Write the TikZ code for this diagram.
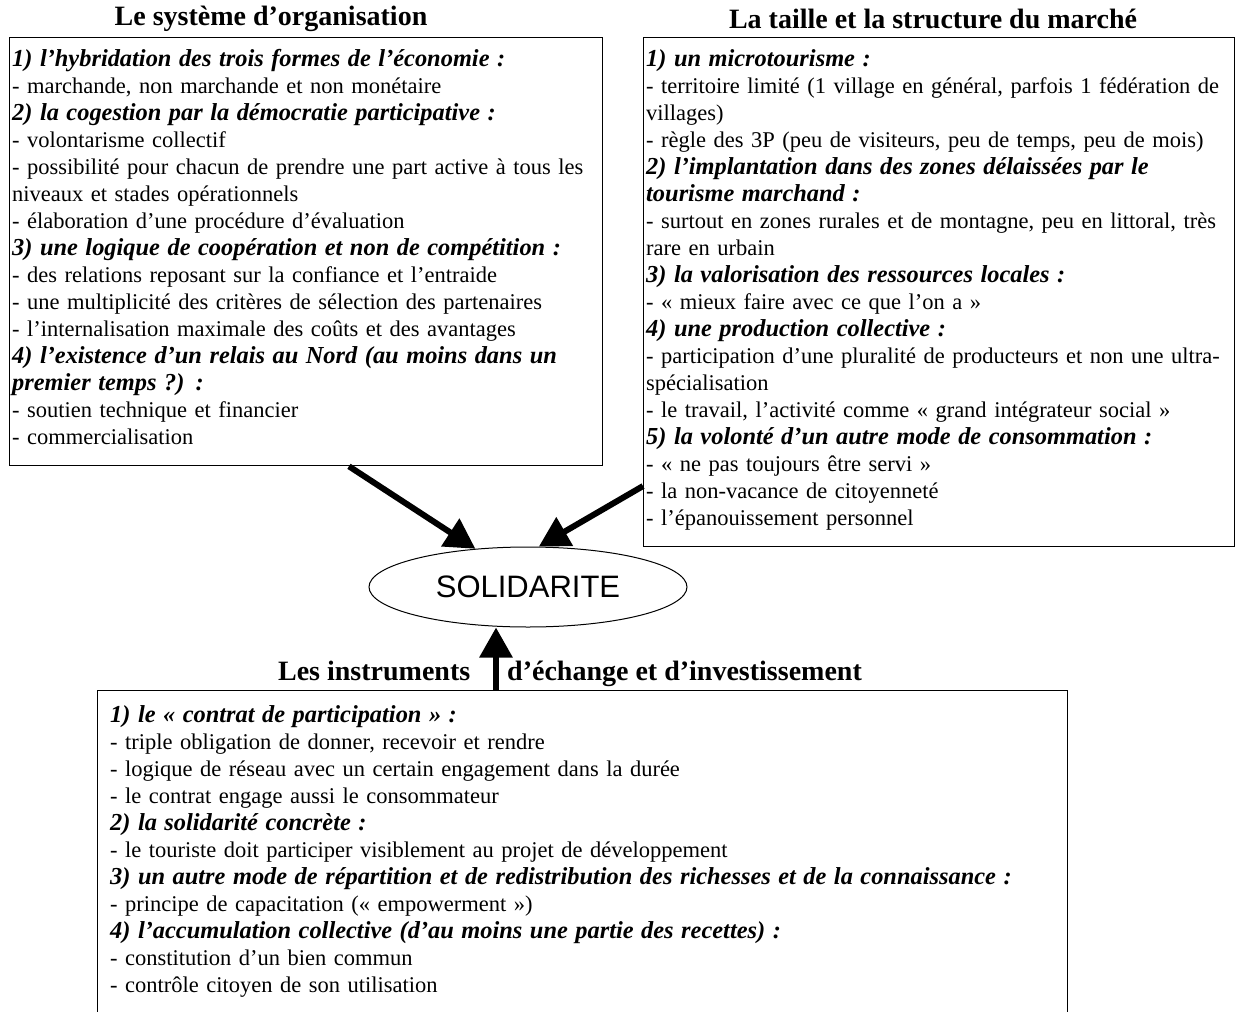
\documentclass[tikz,border=0pt]{standalone}
\usepackage{fontspec}
\setmainfont{Liberation Serif}
\newfontfamily\arialfont{Liberation Sans}
\usetikzlibrary{shapes.geometric,arrows.meta,calc}

\newcommand{\rub}[1]{{\fontsize{24.4}{27}\selectfont\bfseries\itshape #1}}
\newcommand{\pleine}[1]{\makebox[\hsize][s]{#1}}

\begin{document}
\begin{tikzpicture}[x=1pt,y=-1pt]
\tikzstyle{cadre}=[draw, line width=1.3pt, rectangle, inner sep=0pt, anchor=north west]
\tikzstyle{texte}=[anchor=north west, align=left, inner xsep=3pt, inner ysep=12pt,
	font=\fontsize{22.5}{27}\selectfont]
\tikzstyle{titre}=[font=\fontsize{28}{30}\selectfont\bfseries]
\tikzstyle{fleche}=[line width=6pt, -{Triangle[length=30pt,width=32pt]}]
\useasboundingbox (0,0) rectangle (1235,1012);

% les trois cadres
\node[cadre, minimum width=593pt, minimum height=428pt] (orga) at (9,37) {};
\node[cadre, minimum width=591pt, minimum height=509pt] (marche) at (643,37) {};
\node[cadre, minimum width=970pt, minimum height=340pt] (instr) at (97,690) {};

% titres
\node[titre] (t-orga) at (271,19) {Le système d’organisation};
\node[titre] (t-marche) at (933,19) {La taille et la structure du marché};
\node[titre] (t-instr) at (570,674) {Les instruments\hspace{37pt}d’échange et d’investissement};

\node[texte, text width=587pt] (orga-txt) at (orga.north west) {%
\rub{1) l’hybridation des trois formes de l’économie :}\\
- marchande, non marchande et non monétaire\\
\rub{2) la cogestion par la démocratie participative :}\\
- volontarisme collectif\\
\pleine{- possibilité pour chacun de prendre une part active à tous les}\\
niveaux et stades opérationnels\\
- élaboration d’une procédure d’évaluation\\
\rub{3) une logique de coopération et non de compétition :}\\
- des relations reposant sur la confiance et l’entraide\\
- une multiplicité des critères de sélection des partenaires\\
- l’internalisation maximale des coûts et des avantages\\
\rub{4) l’existence d’un relais au Nord (au moins dans un}\\
\rub{premier temps ?) :}\\
- soutien technique et financier\\
- commercialisation};

\node[texte, text width=583pt] (marche-txt) at (marche.north west) {%
\rub{1) un microtourisme :}\\
\pleine{- territoire limité (1 village en général, parfois 1 fédération de}\\
villages)\\
- règle des 3P (peu de visiteurs, peu de temps, peu de mois)\\
\rub{2) l’implantation dans des zones délaissées par le}\\
\rub{tourisme marchand :}\\
\pleine{- surtout en zones rurales et de montagne, peu en littoral, très}\\
rare en urbain\\
\rub{3) la valorisation des ressources locales :}\\
- « mieux faire avec ce que l’on a »\\
\rub{4) une production collective :}\\
\pleine{- participation d’une pluralité de producteurs et non une ultra-}\\
spécialisation\\
- le travail, l’activité comme « grand intégrateur social »\\
\rub{5) la volonté d’un autre mode de consommation :}\\
- « ne pas toujours être servi »\\
- la non-vacance de citoyenneté\\
- l’épanouissement personnel};

\node[texte, text width=960pt, xshift=10pt, yshift=-3pt] (instr-txt) at (instr.north west) {%
\rub{1) le « contrat de participation » :}\\
- triple obligation de donner, recevoir et rendre\\
- logique de réseau avec un certain engagement dans la durée\\
- le contrat engage aussi le consommateur\\
\rub{2) la solidarité concrète :}\\
- le touriste doit participer visiblement au projet de développement\\
\rub{3) un autre mode de répartition et de redistribution des richesses et de la connaissance :}\\
- principe de capacitation (« empowerment »)\\
\rub{4) l’accumulation collective (d’au moins une partie des recettes) :}\\
- constitution d’un bien commun\\
- contrôle citoyen de son utilisation};

\node[draw, ellipse, line width=1pt, minimum width=318pt, minimum height=80pt, inner sep=0pt,
	font=\arialfont\fontsize{31}{32}\selectfont] (solid) at (528,587) {SOLIDARITE};

% fleches vers la solidarite
\draw[fleche] ($(orga.south west)!0.572!(orga.south east)$) -- (solid.144);
\draw[fleche] ($(marche.north west)!0.88!(marche.south west)$) -- (solid.75);
\coordinate (pied) at (496,690);
\draw[fleche] (pied) -- (pied |- solid.south);
\end{tikzpicture}
\end{document}
